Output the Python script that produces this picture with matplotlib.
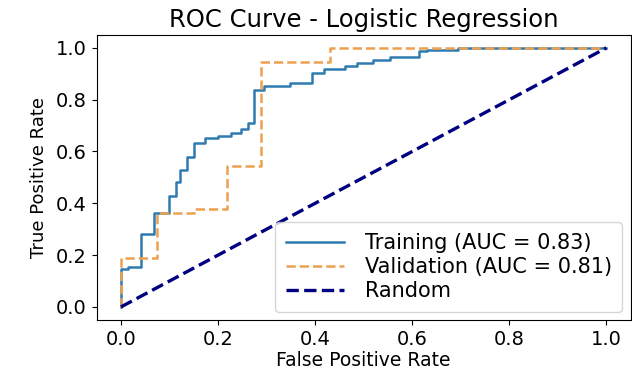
import matplotlib
matplotlib.use("Agg")
import matplotlib.pyplot as plt

# ROC points (step corners)
train_fpr = [0.0, 0.0, 0.015, 0.042, 0.068, 0.099, 0.114, 0.121, 0.136, 0.150,
             0.173, 0.200, 0.227, 0.248, 0.262, 0.274, 0.294, 0.349, 0.394,
             0.418, 0.462, 0.486, 0.520, 0.555, 0.613, 0.630, 0.695, 1.0]
train_tpr = [0.0, 0.146, 0.156, 0.282, 0.364, 0.430, 0.484, 0.529, 0.580, 0.632,
             0.651, 0.660, 0.670, 0.685, 0.710, 0.838, 0.853, 0.866, 0.902,
             0.918, 0.930, 0.943, 0.952, 0.965, 0.986, 0.992, 1.0, 1.0]

val_fpr = [0.0, 0.0, 0.075, 0.150, 0.219, 0.289, 0.431, 1.0]
val_tpr = [0.0, 0.19, 0.362, 0.378, 0.542, 0.945, 1.0, 1.0]

train_auc = 0.83
val_auc = 0.81

fig = plt.figure(figsize=(6.32, 3.75), dpi=100)
ax = fig.add_axes([0.153, 0.147, 0.845, 0.76])

ax.step(train_fpr, train_tpr, where='post', color='#2f7bb0', linewidth=1.8,
        label='Training (AUC = %.2f)' % train_auc)
ax.step(val_fpr, val_tpr, where='post', color='#eea04e', linewidth=1.8,
        linestyle='--', label='Validation (AUC = %.2f)' % val_auc)
ax.plot([0, 1], [0, 1], color='navy', linewidth=2.4, linestyle='--', label='Random')

ax.set_title('ROC Curve - Logistic Regression', fontsize=17.5, pad=6)
ax.set_xlabel('False Positive Rate', fontsize=13.5, labelpad=2)
ax.set_ylabel('True Positive Rate', fontsize=13, labelpad=6)
ax.tick_params(axis='both', labelsize=14)
ax.legend(loc='lower right', fontsize=15, handlelength=2.8, handletextpad=1.0,
          labelspacing=0.2, borderaxespad=0.4, borderpad=0.5)

fig.savefig('out.png', dpi=100)
